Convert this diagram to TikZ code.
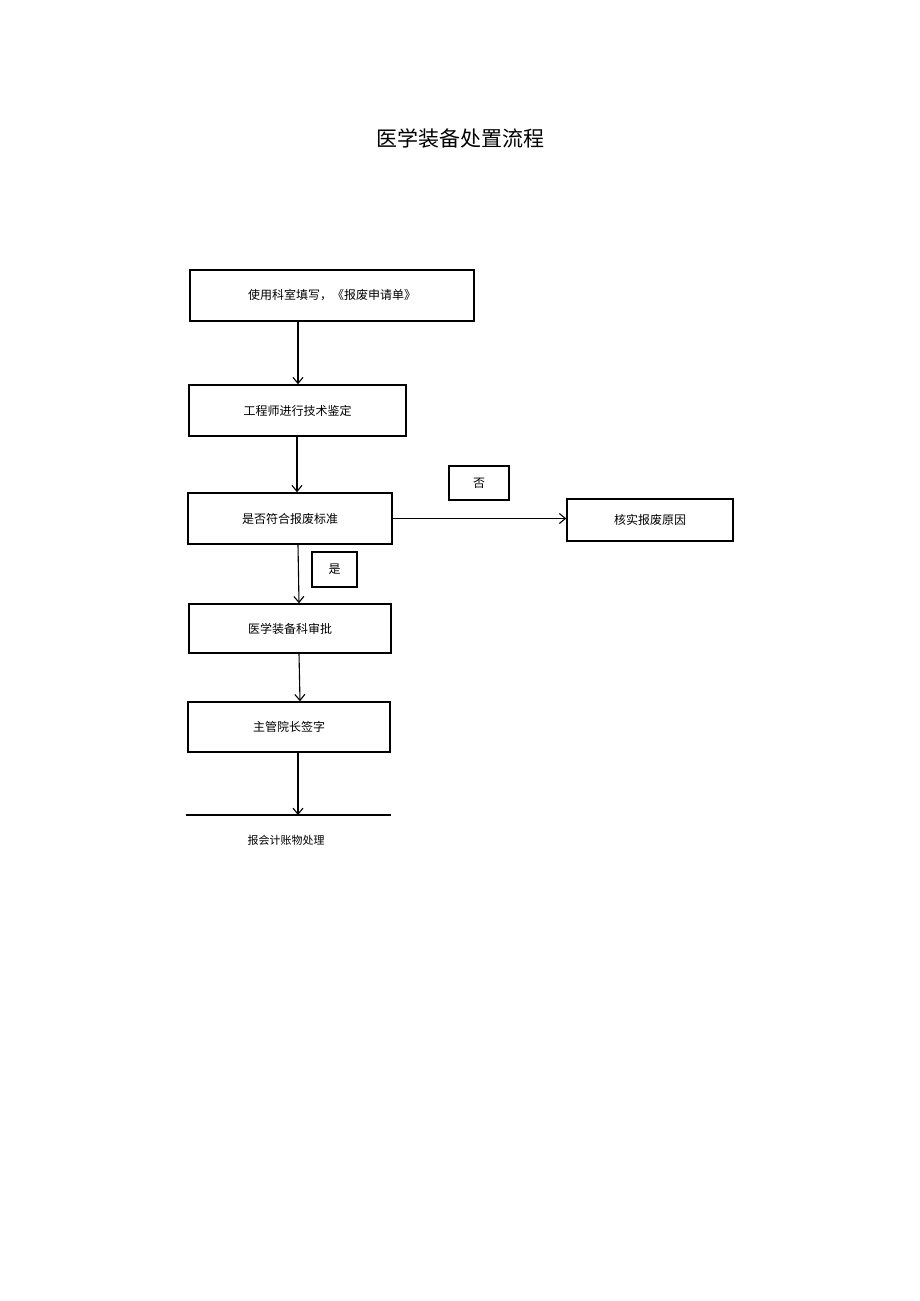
\documentclass[tikz,border=0pt]{standalone}
\usepackage{fontspec}
\setmainfont{Noto Sans CJK SC}
\usetikzlibrary{arrows.meta,positioning}
\tikzset{stepbox/.style={draw, line width=1.5pt, inner sep=0pt, font=\fontsize{12}{14}\selectfont},
         flow/.style={line width=1.1pt, -{Straight Barb[length=6pt,width=10pt]}}}
\begin{document}
\begin{tikzpicture}[x=1pt,y=-1pt]
    \useasboundingbox (0,0) rectangle (920,1301);
    \node[font=\fontsize{21}{24}\selectfont] (title) at (460,138) {医学装备处置流程};
    % boxes
    \node[stepbox, minimum width=284, minimum height=51] (apply) at (332,295.5) {使用科室填写，《报废申请单》};
    \node[stepbox, minimum width=217, minimum height=51] (check) at (297.5,410.5) {工程师进行技术鉴定};
    \node[stepbox, minimum width=204, minimum height=51] (judge) at (290,518.5) {是否符合报废标准};
    \node[stepbox, minimum width=166, minimum height=42] (reason) at (650,520) {核实报废原因};
    \node[stepbox, minimum width=60, minimum height=34] (no) at (479,483) {否};
    \node[stepbox, minimum width=45, minimum height=35] (yes) at (334.5,569.5) {是};
    \node[stepbox, minimum width=202, minimum height=49] (approve) at (290,628.5) {医学装备科审批};
    \node[stepbox, minimum width=202, minimum height=50] (sign) at (289,727) {主管院长签字};
    \coordinate (endl) at (186,815);
    \coordinate (endr) at (391,815);
    \node[font=\fontsize{11}{13}\selectfont] (account) at (286,840) {报会计账物处理};
    % connectors
    \draw[flow] (apply.south -| 298,0) -- (check.north -| 298,0);
    \draw[flow] (check.south -| 297,0) -- (judge.north -| 297,0);
    \draw[flow] (judge.east) -- (reason.west |- judge.east);
    \draw[flow] (judge.south -| 298,0) -- (approve.north -| 299,0);
    \draw[flow] (approve.south -| 299,0) -- (sign.north -| 300,0);
    \draw[line width=1.1pt] (endl) -- (endr);
    \draw[flow] (sign.south -| 298,0) -- (298,815);
\end{tikzpicture}
\end{document}
